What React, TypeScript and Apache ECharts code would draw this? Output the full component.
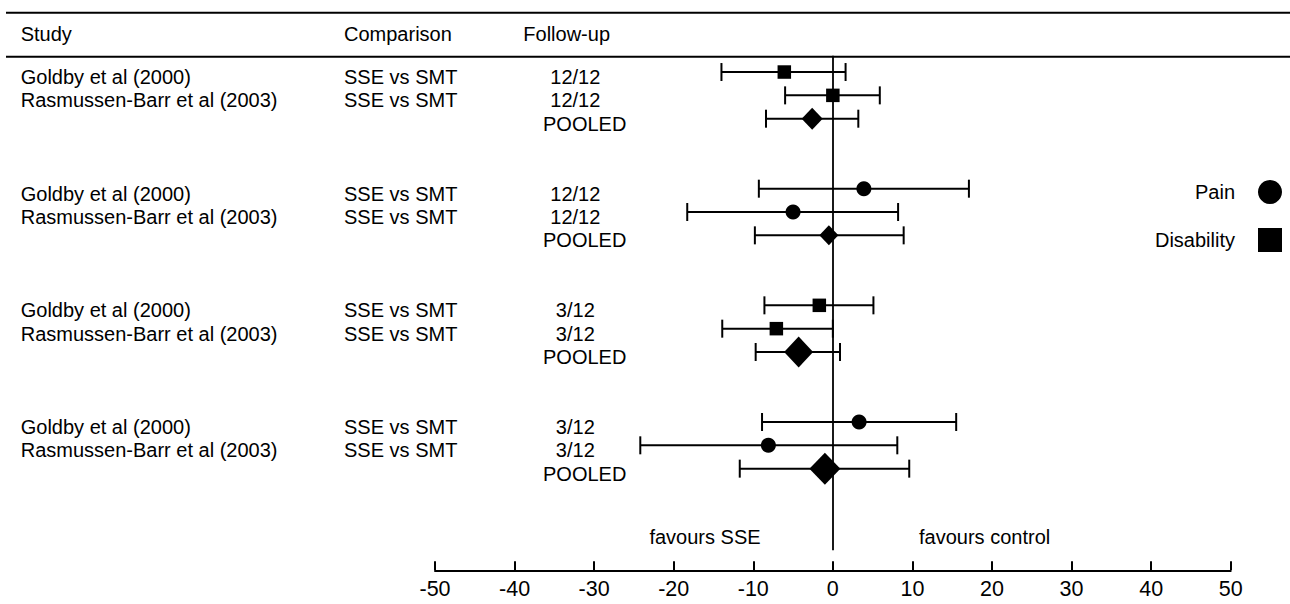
import React, { useEffect, useRef } from "react";
import * as echarts from "echarts";

// ---- data ----
const rowPositions = [0, 1, 2, 5, 6, 7, 10, 11, 12, 15, 16, 17];
const studyLabels = [
  "Goldby et al (2000)", "Rasmussen-Barr et al (2003)", "",
  "Goldby et al (2000)", "Rasmussen-Barr et al (2003)", "",
  "Goldby et al (2000)", "Rasmussen-Barr et al (2003)", "",
  "Goldby et al (2000)", "Rasmussen-Barr et al (2003)", "",
];
const comparisonLabels = [
  "SSE vs SMT", "SSE vs SMT", "",
  "SSE vs SMT", "SSE vs SMT", "",
  "SSE vs SMT", "SSE vs SMT", "",
  "SSE vs SMT", "SSE vs SMT", "",
];
const followUpLabels = [
  "12/12", "12/12", "POOLED",
  "12/12", "12/12", "POOLED",
  "3/12", "3/12", "POOLED",
  "3/12", "3/12", "POOLED",
];
const outcomes = [
  "Disability", "Disability", "Pooled",
  "Pain", "Pain", "Pooled",
  "Disability", "Disability", "Pooled",
  "Pain", "Pain", "Pooled",
];
const estimates = [-6.1, 0, -2.6, 3.9, -5.0, -0.5, -1.7, -7.1, -4.3, 3.3, -8.1, -1.0];
const lowerCI = [-14.0, -6.0, -8.4, -9.3, -18.3, -9.8, -8.6, -13.9, -9.7, -8.9, -24.2, -11.7];
const upperCI = [1.6, 5.9, 3.2, 17.1, 8.2, 8.9, 5.1, 0, 0.9, 15.5, 8.1, 9.6];
const headerLabels = ["Study", "Comparison", "Follow-up"];
const directionLabels = ["favours SSE", "favours control"];
const xTicks = { min: -50, max: 50, interval: 10 };

// ---- styles (not data) ----
const pooledDiamondSizes: [number, number][] = [[21, 22], [19, 20], [29, 31], [31, 32]];
const FONT = "Liberation Sans";
const FS = 20;
const INK = "#000";

export default function App() {
  const ref = useRef<HTMLDivElement>(null);

  useEffect(() => {
    if (!ref.current) return;
    const chart = echarts.init(ref.current, null, { renderer: "svg" });

    const idx = rowPositions.map((_, i) => i);
    const pick = (name: string) =>
      idx.filter((i) => outcomes[i] === name).map((i) => [estimates[i], rowPositions[i]]);
    let pIdx = 0;
    const pooledData = idx
      .filter((i) => outcomes[i] === "Pooled")
      .map((i) => ({ value: [estimates[i], rowPositions[i]], symbolSize: pooledDiamondSizes[pIdx++] }));

    const textStyleBase = { fontSize: FS, fontFamily: FONT, fill: INK, verticalAlign: "middle" };
    const markerStyle = { color: INK, opacity: 1 };

    const option: any = {
      animation: false,
      backgroundColor: "#fff",
      grid: { left: 435, right: 59.3, top: 55.7, bottom: 53.7 },
      xAxis: {
        type: "value",
        min: xTicks.min,
        max: xTicks.max,
        interval: xTicks.interval,
        position: "bottom",
        offset: 20,
        axisLine: { onZero: false, lineStyle: { color: INK, width: 2 } },
        axisTick: { inside: true, length: 9, lineStyle: { color: INK, width: 2 } },
        axisLabel: { color: INK, fontSize: 21.5, fontFamily: FONT, margin: 8 },
        splitLine: { show: false },
      },
      yAxis: {
        type: "value",
        inverse: true,
        min: -0.7,
        max: 20.5,
        show: false,
      },
      legend: {
        orient: "vertical",
        align: "right",
        right: 8,
        top: 180,
        padding: 0,
        itemWidth: 24,
        itemHeight: 24,
        itemGap: 24,
        selectedMode: false,
        itemStyle: { color: INK, opacity: 1 },
        textStyle: { color: INK, fontSize: FS, fontFamily: FONT, padding: [0, 18, 0, 0] },
        data: [
          { name: "Pain", icon: "circle" },
          { name: "Disability", icon: "rect" },
        ],
      },
      graphic: [
        { type: "line", shape: { x1: 6, y1: 12.7, x2: 1290, y2: 12.7 }, style: { stroke: INK, lineWidth: 2 } },
        { type: "line", shape: { x1: 6, y1: 56.7, x2: 1290, y2: 56.7 }, style: { stroke: INK, lineWidth: 2 } },
        { type: "text", x: 20.7, y: 34, style: { ...textStyleBase, text: headerLabels[0], align: "left" } },
        { type: "text", x: 344, y: 34, style: { ...textStyleBase, text: headerLabels[1], align: "left" } },
        { type: "text", x: 523.3, y: 34, style: { ...textStyleBase, text: headerLabels[2], align: "left" } },
        { type: "text", x: 705, y: 537, style: { ...textStyleBase, text: directionLabels[0], align: "center" } },
        { type: "text", x: 984.6, y: 537, style: { ...textStyleBase, text: directionLabels[1], align: "center" } },
      ],
      series: [
        {
          type: "custom",
          name: "labels",
          silent: true,
          clip: false,
          encode: { x: 0, y: 1 },
          data: idx.map((i) => [0, rowPositions[i]]),
          renderItem: (params: any, api: any) => {
            const i = params.dataIndex;
            const yy = api.coord([0, api.value(1)])[1] + 5;
            const fu = followUpLabels[i];
            return {
              type: "group",
              children: [
                { type: "text", x: 20.7, y: yy, style: { ...textStyleBase, text: studyLabels[i], align: "left" } },
                { type: "text", x: 344, y: yy, style: { ...textStyleBase, text: comparisonLabels[i], align: "left" } },
                fu === "POOLED"
                  ? { type: "text", x: 543, y: yy, style: { ...textStyleBase, text: fu, align: "left" } }
                  : { type: "text", x: 575.3, y: yy, style: { ...textStyleBase, text: fu, align: "center" } },
              ],
            };
          },
        },
        {
          type: "custom",
          name: "ci",
          silent: true,
          encode: { x: [0, 1], y: 2 },
          data: idx.map((i) => [lowerCI[i], upperCI[i], rowPositions[i]]),
          renderItem: (params: any, api: any) => {
            const lo = api.coord([api.value(0), api.value(2)]);
            const hi = api.coord([api.value(1), api.value(2)]);
            const cap = 9;
            const st = { stroke: INK, lineWidth: 2 };
            return {
              type: "group",
              children: [
                { type: "line", shape: { x1: lo[0], y1: lo[1], x2: hi[0], y2: hi[1] }, style: st },
                { type: "line", shape: { x1: lo[0], y1: lo[1] - cap, x2: lo[0], y2: lo[1] + cap }, style: st },
                { type: "line", shape: { x1: hi[0], y1: hi[1] - cap, x2: hi[0], y2: hi[1] + cap }, style: st },
              ],
            };
          },
          z: 2,
        },
        {
          type: "scatter",
          name: "Pain",
          symbol: "circle",
          symbolSize: 15,
          itemStyle: markerStyle,
          data: pick("Pain"),
          z: 3,
          markLine: {
            silent: true,
            symbol: "none",
            label: { show: false },
            lineStyle: { color: INK, width: 1.8, type: "solid", opacity: 1 },
            data: [{ xAxis: 0 }],
          },
        },
        {
          type: "scatter",
          name: "Disability",
          symbol: "rect",
          symbolSize: 13.5,
          itemStyle: markerStyle,
          data: pick("Disability"),
          z: 3,
        },
        {
          type: "scatter",
          name: "Pooled",
          symbol: "diamond",
          itemStyle: markerStyle,
          data: pooledData,
          z: 3,
        },
      ],
    };

    chart.setOption(option);
    return () => chart.dispose();
  }, []);

  return (
    <div
      ref={ref}
      style={{ position: "fixed", left: 0, top: 0, width: 1290, height: 604, background: "#fff" }}
    />
  );
}
